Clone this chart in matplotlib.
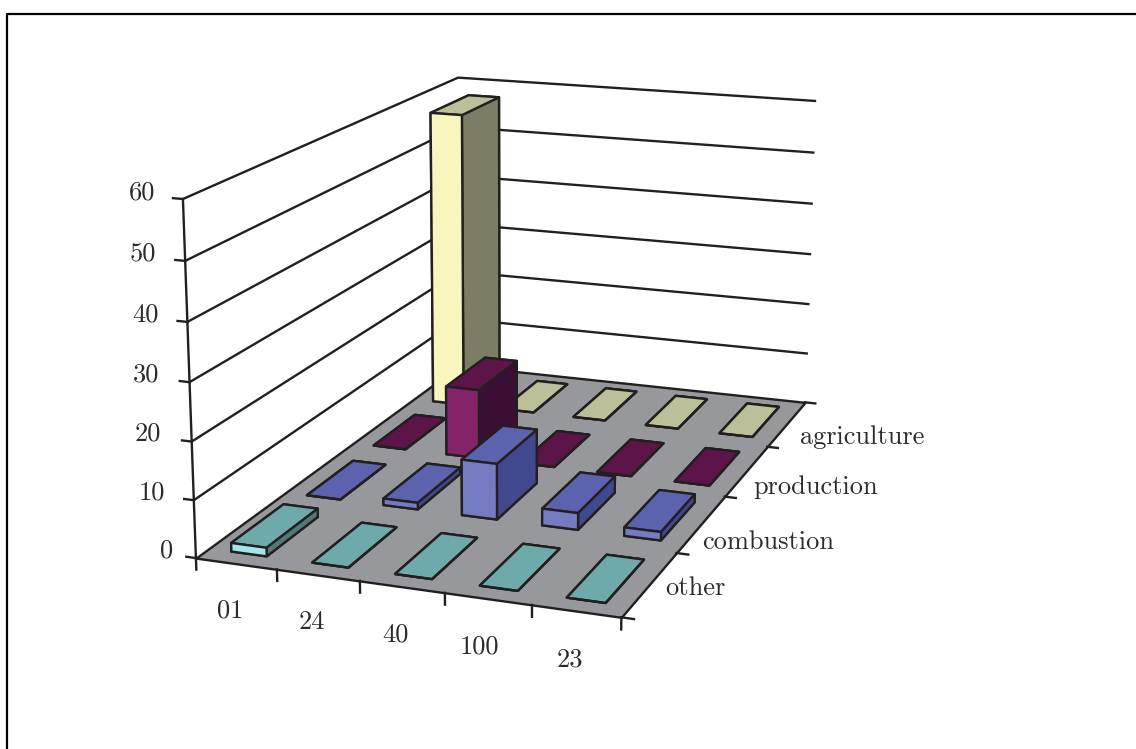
import numpy as np
import matplotlib
matplotlib.use('Agg')
import matplotlib.pyplot as plt
from matplotlib.lines import Line2D
from mpl_toolkits.mplot3d import proj3d
from mpl_toolkits.mplot3d.art3d import Poly3DCollection

# Values
groups = ['01', '24', '40', '100', '23']
sources = ['other', 'combustion', 'production', 'agriculture']
other = [1.5, 0, 0, 0, 0]
combustion = [0, 1.2, 10, 3, 1.5]
production = [0, 13, 0, 0, 0]
agriculture = [57.5, 0, 0, 0, 0]
z_ticks = [0, 10, 20, 30, 40, 50, 60]

series = [other, combustion, production, agriculture]
# top, front, right
colors = [('#6FAAAB', '#A3E6EA', '#55777A'),
          ('#5B63AE', '#747BC0', '#40488E'),
          ('#5C1449', '#85236A', '#3A0F33'),
          ('#BCC098', '#F8F6BE', '#7B7E64')]
line_c = '#231F20'
text_c = '#2B2B2B'
bar_w, bar_d = 0.44, 0.68
lw = 1.7

# label placement, label by label
z_label_x = [-0.29, -0.36, -0.38, -0.37, -0.35, -0.35, -0.33]
group_label_x = [1.05, 1.0, 0.95, 0.88, 0.86]
row_label_x = [0.19, 0.18, 0.23, 0.29]
row_label_y = [0.47, 0.21, 0.23, 0.27]

W, H = 1136, 749
nx, ny = len(groups), len(sources)

fig = plt.figure(figsize=(W / 100, H / 100), dpi=100)
ax = fig.add_subplot(projection='3d', computed_zorder=False)
ax.set_position([103.93 / W, 11.8 / H, 827.8 / W, 827.8 / H])
ax.view_init(elev=15.3445, azim=-70.0505, roll=-0.1015)
ax.set_proj_type('persp', focal_length=0.5527)
ax.set_box_aspect((1.2151, 1.9553, 1))
ax.set_xlim(0, nx, view_margin=0)
ax.set_ylim(0, ny, view_margin=0)
ax.set_zlim(0, z_ticks[-1], view_margin=0)
ax.set_xticks([])
ax.set_yticks([])
ax.set_zticks([])
ax.set_axis_off()


def label(x, y, z, s, ha):
    # plain 2D text at the projected point
    px, py, _ = proj3d.proj_transform(x, y, z, ax.get_proj())
    ax.text2D(px, py, s, transform=ax.transData, ha=ha, va='center', family='cmr10',
              fontsize=19, color=text_c, zorder=50)


# floor
floor = Poly3DCollection([[(0, 0, 0), (nx, 0, 0), (nx, ny, 0), (0, ny, 0)]],
                         facecolor='#97989C', edgecolor=line_c, linewidth=lw, zorder=1)
ax.add_collection3d(floor)

# wall gridlines and the value axis
for z in z_ticks[1:]:
    ax.plot([0, 0, nx], [0, ny, ny], [z, z, z], color=line_c, lw=lw, zorder=2)
ax.plot([0, 0], [0, 0], [0, z_ticks[-1]], color=line_c, lw=lw, zorder=2)
for k, z in enumerate(z_ticks):
    ax.plot([-0.12, 0], [0, 0], [z, z], color=line_c, lw=lw, zorder=2)
    label(z_label_x[k], 0, z + 0.7, str(z), 'right')

# category ticks
for i in range(nx + 1):
    ax.plot([i, i], [0, 0], [-2, 0], color=line_c, lw=lw, zorder=2)
for j in range(ny + 1):
    ax.plot([nx, nx + 0.14], [j, j], [0, 0], color=line_c, lw=lw, zorder=2)
for i, g in enumerate(groups):
    label(i + group_label_x[i], -0.62, 0, g, 'center')
for j, s in enumerate(sources):
    label(nx + row_label_x[j], j + row_label_y[j], 0, s, 'left')

# bars, back row first so nearer bars cover farther ones
order = 10
for j in reversed(range(ny)):
    for i in range(nx):
        val = series[j][i]
        top, front, right = colors[j]
        if val == 0:
            face = [top] * 6
        else:
            # bar3d face order: bottom, top, front, back, left, right
            face = [top, top, front, top, front, right]
        bar = ax.bar3d(i + (1 - bar_w) / 2, j + (1 - bar_d) / 2, 0, bar_w, bar_d, val,
                       color=face, shade=False, edgecolor=line_c, linewidth=lw)
        bar.set_zorder(order)
        order += 1

ax.set_xlim(0, nx, view_margin=0)
ax.set_ylim(0, ny, view_margin=0)
ax.set_zlim(0, z_ticks[-1], view_margin=0)

# page frame, top and left only
fig.add_artist(Line2D([6.5 / W, 6.5 / W, 1], [0, 1 - 13.5 / H, 1 - 13.5 / H],
                      color='black', lw=1.6))

fig.savefig('out.png', dpi=100)
